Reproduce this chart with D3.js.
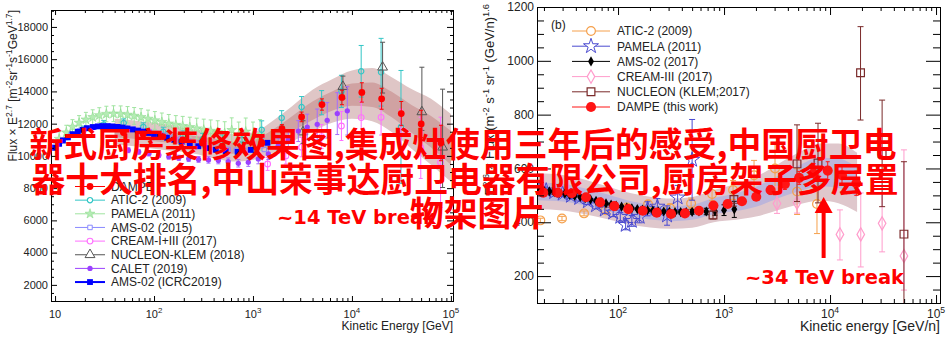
<!DOCTYPE html>
<html><head><meta charset="utf-8">
<script src="https://cdn.jsdelivr.net/npm/d3@7/dist/d3.min.js"></script>
<style>
html,body{margin:0;padding:0;background:#fff;}
svg{display:block;}
</style></head>
<body>
<svg id="chart" width="951" height="352"></svg>
<script>
// ================= LEFT PANEL: proton flux x E^2.7 =================
const pBandE   = [40, 63, 100, 160, 250, 400, 630, 1000, 1600, 2500, 4000, 6300, 10000, 16000, 25000, 40000, 63000, 100000];
const pBandHi2 = [12300, 12200, 12050, 11900, 11650, 11550, 11350, 11450, 12200, 13100, 14100, 14750, 15300, 15450, 14900, 14150, 13550, 12600];
const pBandLo2 = [10700, 10600, 10450, 10300, 10150, 9850, 9650, 9750, 10200, 10900, 11500, 12050, 12300, 12150, 11500, 10450, 9450, 8400];
const pBandHi1 = [11850, 11750, 11600, 11450, 11250, 11080, 10870, 10970, 11650, 12480, 13380, 14000, 14490, 14560, 13990, 13160, 12480, 11550];
const pBandLo1 = [11150, 11060, 10910, 10770, 10570, 10330, 10130, 10230, 10750, 11520, 12220, 12800, 13110, 13040, 12410, 11440, 10520, 9450];

const pDampeE   = [49, 77.6, 123, 195, 309, 490, 776, 1230, 1963, 3100, 4977, 7925, 12590, 19950, 31500, 50100, 79400];
const pDampeV   = [11450, 11350, 11200, 11000, 10800, 10600, 10450, 10800, 11688, 12419, 13187, 13625, 13937, 13544, 12625, 11981, 10800];
const pDampeErr = [120, 120, 120, 120, 130, 140, 160, 200, 250, 300, 350, 450, 600, 650, 750, 850, 1100];

const pAticE   = [19.5, 31, 49.4, 78, 124, 196, 310, 490, 775, 1225, 1950, 3100, 4940, 7830, 12400, 19700, 31300];
const pAticV   = [11600, 11950, 12044, 11800, 11500, 11250, 11050, 10900, 11000, 11625, 12356, 13031, 13300, 14000, 15250, 15190, 11800];
const pAticErr = [250, 250, 250, 250, 280, 300, 350, 400, 450, 550, 450, 650, 750, 1000, 1600, 2100, 3500];

const pPamelaE   = [11, 13, 15, 17.5, 20.5, 24, 28, 33, 39, 46, 54, 63, 74, 87, 102, 120, 141, 166, 195, 230, 270, 318, 374, 440, 518, 610, 718, 845, 1000, 1180];
const pPamelaV   = [11050, 11450, 11800, 12050, 12250, 12400, 12520, 12600, 12620, 12600, 12550, 12480, 12400, 12300, 12200, 12100, 12000, 11920, 11850, 11780, 11700, 11620, 11550, 11480, 11400, 11600, 11300, 11500, 11200, 11300];
const pPamelaErr = [450, 450, 450, 450, 450, 460, 470, 480, 490, 500, 510, 520, 530, 540, 550, 560, 570, 580, 600, 620, 640, 660, 680, 700, 720, 760, 800, 850, 900, 950];

const pAms15E = [10, 12, 14.5, 17.5, 21, 25, 30, 36, 43, 52, 62, 75, 90, 108, 130, 156, 187, 225, 270, 325, 390, 470, 560, 680, 820, 1000, 1300, 1800];
const pAms15V = [10600, 11000, 11300, 11550, 11700, 11780, 11820, 11820, 11790, 11730, 11660, 11580, 11490, 11390, 11280, 11160, 11040, 10920, 10800, 10680, 10570, 10470, 10400, 10350, 10330, 10350, 10400, 10500];

const pCreamE   = [1406, 2150, 3100, 4940, 7830, 12400, 19700, 31300, 49600, 78600];
const pCreamV   = [9500, 10000, 10544, 11200, 11856, 12375, 12394, 11500, 10500, 9600];
const pCreamErr = [400, 500, 600, 750, 900, 1000, 1100, 1400, 1900, 2800];

const pNucleonE     = [3200, 8100, 20400, 50900, 82400];
const pNucleonV     = [11480, 14300, 15500, 12730, 10540];
const pNucleonErrLo = [700, 750, 1600, 1150, 2500];
const pNucleonErrHi = [700, 650, 1550, 2770, 3600];

const pCaletE   = [55, 70, 89, 112, 141, 178, 224, 282, 355, 447, 562, 711, 897, 1132, 1429, 1802, 2275, 2871, 3535, 4457, 5623, 7109, 8977];
const pCaletV   = [10350, 10250, 10150, 10050, 9950, 9880, 9820, 9780, 9750, 9720, 9650, 9540, 9600, 9810, 10125, 10640, 11000, 11540, 11790, 11956, 12206, 12625, 12794];
const pCaletErr = [150, 150, 150, 150, 150, 160, 170, 180, 200, 210, 220, 230, 250, 300, 350, 450, 550, 650, 800, 950, 1100, 1300, 1500];

const pAmsIcrcE = [10, 11, 12, 13.5, 15, 17, 19, 21, 24, 27, 30, 34, 38, 43, 48, 54, 61, 69, 78, 88, 100, 115, 135, 160, 190, 230, 280, 340, 420, 530, 700, 950, 1400];
const pAmsIcrcV = [10500, 10750, 10950, 11150, 11350, 11500, 11620, 11720, 11790, 11830, 11850, 11850, 11830, 11800, 11760, 11700, 11640, 11570, 11500, 11420, 11350, 11250, 11130, 11000, 10880, 10740, 10600, 10480, 10380, 10300, 10250, 10375, 10812];

const pLegend = ["DAMPE", "ATIC-2 (2009)", "PAMELA (2011)", "AMS-02 (2015)", "CREAM-I+III (2017)", "NUCLEON-KLEM (2018)", "CALET (2019)", "AMS-02 (ICRC2019)"];
const pYTicks = [2000, 4000, 6000, 8000, 10000, 12000, 14000, 16000, 18000];

// ================= RIGHT PANEL: helium flux x E^2.6 =================
const hBandE   = [17.5, 30, 50, 80, 130, 200, 320, 500, 800, 1300, 2000, 3200, 5000, 8000, 12000, 18000];
const hBandHi2 = [582, 576, 557, 533, 509, 495, 488, 494, 520, 542, 569, 615, 658, 693, 693, 658];
const hBandLo2 = [448, 444, 429, 411, 392, 381, 376, 380, 400, 409, 421, 445, 466, 481, 471, 438];
const hBandHi1 = [548, 543, 525, 503, 479, 466, 460, 465, 490, 508, 532, 572, 610, 640, 637, 603];
const hBandLo1 = [482, 477, 461, 441, 421, 410, 404, 409, 430, 442, 458, 488, 514, 534, 527, 493];

const hDampeE   = [19.7, 27.0, 36.6, 49.9, 67.7, 92.3, 125, 171, 232, 316, 428, 580, 794, 1081, 1476, 2013, 2748, 3750, 5110, 6970, 9510, 12970, 17700];
const hDampeV   = [510, 510, 508, 493, 474, 460, 449, 443, 436, 431, 433, 443, 462, 468, 478, 495, 520, 542, 565, 582, 592, 575, 545];
const hDampeErr = [5, 5, 5, 5, 5, 5, 5, 5, 6, 6, 7, 8, 9, 10, 12, 14, 17, 20, 24, 28, 33, 38, 45];

const hAticE   = [18.5, 29.6, 47.8, 76.3, 121.6, 192, 310, 489, 771, 1217, 1919, 3027, 4890, 7530];
const hAticV   = [407, 414, 433, 445, 455, 467, 452, 470, 505, 520, 575, 600, 514, 468];
const hAticErr = [8, 8, 9, 10, 12, 14, 16, 20, 25, 35, 55, 90, 85, 110];

const hPamelaE   = [18, 21, 25, 30, 36, 43, 52, 62, 75, 90, 105, 118, 135, 160, 190, 235, 290, 365, 500];
const hPamelaV   = [522, 518, 512, 506, 498, 490, 478, 463, 447, 436, 420, 390, 405, 420, 450, 458, 425, 492, 632];
const hPamelaErr = [9, 9, 9, 10, 10, 11, 12, 13, 14, 15, 16, 18, 20, 22, 26, 30, 36, 45, 150];

const hAmsE   = [18, 20, 22.5, 25, 28, 31.5, 35, 39, 44, 49, 55, 62, 69, 77, 86, 96, 108, 121, 135, 152, 170, 190, 213, 240, 270, 305, 345, 390, 440, 500, 580, 680, 820, 1000, 1250];
const hAmsV   = [520, 518, 515, 512, 509, 506, 502, 498, 494, 490, 485, 480, 475, 470, 466, 462, 458, 455, 452, 449, 447, 445, 443, 441, 440, 439, 438, 438, 438, 439, 440, 440, 441, 445, 448];
const hAmsErr = [3, 3, 3, 3, 3, 3, 3, 3, 3, 3, 3, 3, 3, 3, 3, 3, 3, 3, 4, 4, 4, 4, 5, 5, 5, 6, 6, 7, 8, 9, 10, 12, 15, 20, 30];

const hCreamE     = [3160, 4880, 12400, 19500, 31000, 49800];
const hCreamV     = [470, 473, 355, 355, 396, 275];
const hCreamErrLo = [37, 39, 95, 121, 106, 127];
const hCreamErrHi = [62, 73, 91, 154, 113, 394];

const hNucleonE     = [787, 1240, 4880, 7700, 19400, 31000, 49800];
const hNucleonV     = [427, 485, 617, 620, 956, 656, 356];
const hNucleonErrLo = [15, 25, 140, 148, 176, 198, 356];
const hNucleonErrHi = [15, 25, 145, 148, 171, 198, 269];

const hLegend = ["ATIC-2 (2009)", "PAMELA (2011)", "AMS-02 (2017)", "CREAM-III (2017)", "NUCLEON (KLEM;2017)", "DAMPE (this work)"];
const hYTicks = [200, 400, 600, 800, 1000, 1200];
const hBreakE = 8700;

const overlayLines = ["新式厨房装修效果图,集成灶使用三年后的感受,中国厨卫电", "器十大排名,中山荣事达厨卫电器有限公司,厨房架子多层置", "物架图片"];

// ================= drawing =================
const svg = d3.select("#chart");
const FONT = '"Liberation Sans", Arial, Helvetica, sans-serif';
svg.append("rect").attr("width", 951).attr("height", 352).attr("fill", "#fff");

function supText(sel, parts, fs) {
  let up = false;
  parts.forEach(p => {
    const sup = Array.isArray(p);
    const s = sup ? p[0] : p;
    const t = sel.append("tspan").text(s);
    if (sup) { t.attr("font-size", fs * 0.72); if (!up) { t.attr("dy", -fs * 0.42); up = true; } }
    else if (up) { t.attr("dy", fs * 0.42); up = false; }
  });
  return sel;
}

function logTicks(d0, d1) {
  const major = [], minor = [];
  for (let k = Math.floor(Math.log10(d0)); k <= Math.ceil(Math.log10(d1)); k++) {
    for (let m = 1; m < 10; m++) {
      const v = m * Math.pow(10, k);
      if (v < d0 || v > d1) continue;
      (m === 1 ? major : minor).push(v);
    }
  }
  return { major, minor };
}

function zip(E, V, lo, hi) { return E.map((e, i) => ({ e, v: V[i], lo: lo ? lo[i] : 0, hi: hi ? hi[i] : 0 })); }

function band(plot, x, y, E, lo, hi, color) {
  const d = E.map((e, i) => ({ e, lo: lo[i], hi: hi[i] }));
  plot.append("path").datum(d)
    .attr("d", d3.area().x(p => x(p.e)).y0(p => y(p.lo)).y1(p => y(p.hi)).curve(d3.curveMonotoneX))
    .attr("fill", color).attr("stroke", "none");
}

function series(plot, x, y, data, st) {
  const g = plot.append("g");
  if (st.err) {
    data.forEach(p => {
      const cx = x(p.e), y1 = y(p.v - p.lo), y2 = y(p.v + p.hi);
      const ec = st.ecolor || st.color;
      g.append("line").attr("x1", cx).attr("x2", cx).attr("y1", y1).attr("y2", y2)
        .attr("stroke", ec).attr("stroke-width", st.ew || 1);
      if (st.cap) [y1, y2].forEach(yy => g.append("line")
        .attr("x1", cx - st.cap).attr("x2", cx + st.cap).attr("y1", yy).attr("y2", yy)
        .attr("stroke", ec).attr("stroke-width", st.ew || 1));
    });
  }
  const sym = d3.symbol().type(st.sym).size(st.size);
  g.selectAll("path").data(data).join("path").attr("d", sym)
    .attr("transform", p => `translate(${x(p.e)},${y(p.v)})`)
    .attr("fill", st.fill).attr("stroke", st.stroke || "none").attr("stroke-width", st.sw || 1);
}

function axes(g, x, y, box, o) {
  const lt = logTicks(...x.domain());
  const strip = s => { s.select(".domain").remove(); s.selectAll("line").attr("stroke", "#000"); };
  const mk = (axisFn, scale, vals, len, tr) =>
    g.append("g").attr("transform", tr).call(axisFn(scale).tickValues(vals).tickSize(-len).tickFormat("")).call(strip);
  mk(d3.axisBottom, x, lt.major, o.xMaj, `translate(0,${box.b})`);
  mk(d3.axisBottom, x, lt.minor, o.xMin, `translate(0,${box.b})`);
  mk(d3.axisTop, x, lt.major, o.xMaj, `translate(0,${box.t})`);
  mk(d3.axisTop, x, lt.minor, o.xMin, `translate(0,${box.t})`);
  mk(d3.axisLeft, y, o.yMajor, o.yMaj, `translate(${box.l},0)`);
  mk(d3.axisLeft, y, o.yMinor, o.yMin, `translate(${box.l},0)`);
  mk(d3.axisRight, y, o.yMajor, o.yMaj, `translate(${box.r},0)`);
  mk(d3.axisRight, y, o.yMinor, o.yMin, `translate(${box.r},0)`);
  g.append("rect").attr("x", box.l + 0.5).attr("y", box.t + 0.5).attr("width", box.r - box.l).attr("height", box.b - box.t)
    .attr("fill", "none").attr("stroke", "#000").attr("stroke-width", 1);
  lt.major.forEach(v => {
    const k = Math.round(Math.log10(v));
    const t = g.append("text").attr("x", x(v)).attr("y", o.xLabY).attr("text-anchor", "middle")
      .attr("font-family", FONT).attr("font-size", o.fs).attr("fill", "#222");
    supText(t, k === 1 ? ["10"] : ["10", [String(k)]], o.fs);
  });
  o.yMajor.forEach(v => {
    g.append("text").attr("x", box.l - o.yLabGap).attr("y", y(v)).attr("dy", "0.35em").attr("text-anchor", "end")
      .attr("font-family", FONT).attr("font-size", o.fs).attr("fill", "#222").text(v);
  });
}

function legendRow(g, lx, ly, len, st, label, fs, tx) {
  g.append("line").attr("x1", lx).attr("x2", lx + len).attr("y1", ly).attr("y2", ly)
    .attr("stroke", st.color).attr("stroke-width", st.lw || 1);
  g.append("path").attr("d", d3.symbol().type(st.sym).size(st.size))
    .attr("transform", `translate(${lx + len / 2},${ly})`)
    .attr("fill", st.fill === "none" ? "#fff" : st.fill).attr("stroke", st.stroke || "none").attr("stroke-width", st.sw || 1);
  g.append("text").attr("x", tx).attr("y", ly).attr("dy", "0.36em").attr("font-family", FONT)
    .attr("font-size", fs).attr("fill", "#222").text(label);
}

// ---------- left panel ----------
const boxL = { l: 51, r: 453, t: 10, b: 301 };
const xL = d3.scaleLog().domain([9.1, 1.05e5]).range([boxL.l, boxL.r]);
const yL = d3.scaleLinear().domain([1000, 19050]).range([boxL.b, boxL.t]);
const gL = svg.append("g");
gL.append("clipPath").attr("id", "clipL").append("rect")
  .attr("x", boxL.l).attr("y", boxL.t).attr("width", boxL.r - boxL.l).attr("height", boxL.b - boxL.t);
const plotL = gL.append("g").attr("clip-path", "url(#clipL)");

band(plotL, xL, yL, pBandE, pBandLo2, pBandHi2, "#dfc6c6");
band(plotL, xL, yL, pBandE, pBandLo1, pBandHi1, "#d0a2a2");

const stL = {
  dampe:  { color: "#ff0000", sym: d3.symbolCircle, size: 36, fill: "#ff0000", err: true, cap: 2 },
  atic:   { color: "#33c6c6", sym: d3.symbolCircle, size: 22, fill: "none", stroke: "#33c6c6", sw: 1.2, err: true, cap: 2.5 },
  pamela: { color: "#a0e4a0", sym: d3.symbolStar, size: 30, fill: "#b4ecb4", stroke: "#8fdc8f", sw: 0.6, err: true, cap: 2 },
  ams15:  { color: "#8a8aff", sym: d3.symbolSquare, size: 20, fill: "none", stroke: "#8a8aff", sw: 1 },
  cream:  { color: "#ff70ff", sym: d3.symbolCircle, size: 26, fill: "none", stroke: "#ff70ff", sw: 1.1, err: true, cap: 2 },
  nucleon:{ color: "#555555", sym: d3.symbolTriangle, size: 42, fill: "none", stroke: "#555555", sw: 1, err: true, cap: 2.5 },
  calet:  { color: "#9b40ff", sym: d3.symbolCircle, size: 22, fill: "#9b40ff", err: true, ecolor: "#a66cff", cap: 2 },
  amsIcrc:{ color: "#0000ff", sym: d3.symbolSquare, size: 34, fill: "#0000ff", lw: 2 }
};

series(plotL, xL, yL, zip(pPamelaE, pPamelaV, pPamelaErr, pPamelaErr), stL.pamela);
series(plotL, xL, yL, zip(pAticE, pAticV, pAticErr, pAticErr), stL.atic);
series(plotL, xL, yL, zip(pAms15E, pAms15V), stL.ams15);
series(plotL, xL, yL, zip(pCreamE, pCreamV, pCreamErr, pCreamErr), stL.cream);
series(plotL, xL, yL, zip(pNucleonE, pNucleonV, pNucleonErrLo, pNucleonErrHi), stL.nucleon);
series(plotL, xL, yL, zip(pCaletE, pCaletV, pCaletErr, pCaletErr), stL.calet);
series(plotL, xL, yL, zip(pAmsIcrcE, pAmsIcrcV), stL.amsIcrc);
series(plotL, xL, yL, zip(pDampeE, pDampeV, pDampeErr, pDampeErr), stL.dampe);

const yMinL = d3.range(1000, 19001, 500).filter(v => v % 2000 !== 0);
axes(gL, xL, yL, boxL, { xMaj: 5, xMin: 3, yMaj: 6, yMin: 3, yMajor: pYTicks, yMinor: yMinL, xLabY: 318, fs: 11, yLabGap: 3 });

const legL = gL.append("g");
[stL.dampe, stL.atic, stL.pamela, stL.ams15, stL.cream, stL.nucleon, stL.calet, stL.amsIcrc].forEach((st, i) => {
  legendRow(legL, 75, 186.5 + i * 13.65, 30, st, pLegend[i], 12, 111);
});

gL.append("text").attr("x", boxL.r).attr("y", 330).attr("text-anchor", "end")
  .attr("font-family", FONT).attr("font-size", 12).attr("fill", "#222").text("Kinetic Energy [GeV]");
supText(gL.append("text").attr("transform", `translate(17,${boxL.t}) rotate(-90)`).attr("text-anchor", "end")
  .attr("font-family", FONT).attr("font-size", 12).attr("fill", "#222"),
  ["Flux \u00d7 E", ["2.7"], " [m", ["-2"], "sr", ["-1"], "s", ["-1"], "GeV", ["1.7"], "]"], 12);

// ---------- right panel ----------
const boxR = { l: 537, r: 940, t: 7, b: 303 };
const xR = d3.scaleLog().domain([17.2, 1.09e5]).range([boxR.l, boxR.r]);
const yR = d3.scaleLinear().domain([100, 1200]).range([boxR.b, boxR.t]);
const gR = svg.append("g");
gR.append("clipPath").attr("id", "clipR").append("rect")
  .attr("x", boxR.l).attr("y", boxR.t).attr("width", boxR.r - boxR.l).attr("height", boxR.b - boxR.t);
const plotR = gR.append("g").attr("clip-path", "url(#clipR)");

band(plotR, xR, yR, hBandE, hBandLo2, hBandHi2, "#dfc7cc");
band(plotR, xR, yR, hBandE, hBandLo1, hBandHi1, "#bcb5da");

const stR = {
  atic:   { color: "#f5a04c", sym: d3.symbolCircle, size: 60, fill: "none", stroke: "#f5a04c", sw: 1.2, err: true, cap: 3 },
  pamela: { color: "#4a4ad0", sym: d3.symbolStar, size: 70, fill: "none", stroke: "#4a4ad0", sw: 1, err: true, cap: 3 },
  ams:    { color: "#000000", sym: d3.symbolDiamond, size: 30, fill: "#000", err: true, cap: 2.5 },
  cream:  { color: "#ff9ccc", sym: d3.symbolDiamond, size: 50, fill: "none", stroke: "#ff9ccc", sw: 1.2, err: true, cap: 3 },
  nucleon:{ color: "#7a2a2a", sym: d3.symbolSquare, size: 60, fill: "none", stroke: "#7a2a2a", sw: 1.2, err: true, cap: 3 },
  dampe:  { color: "#ff1414", sym: d3.symbolCircle, size: 80, fill: "#ff1414", err: true, cap: 2 }
};

series(plotR, xR, yR, zip(hAticE, hAticV, hAticErr, hAticErr), stR.atic);
series(plotR, xR, yR, zip(hPamelaE, hPamelaV, hPamelaErr, hPamelaErr), stR.pamela);
series(plotR, xR, yR, zip(hAmsE, hAmsV, hAmsErr, hAmsErr), stR.ams);
series(plotR, xR, yR, zip(hCreamE, hCreamV, hCreamErrLo, hCreamErrHi), stR.cream);
series(plotR, xR, yR, zip(hNucleonE, hNucleonV, hNucleonErrLo, hNucleonErrHi), stR.nucleon);
series(plotR, xR, yR, zip(hDampeE, hDampeV, hDampeErr, hDampeErr), stR.dampe);

const yMinR = d3.range(100, 1201, 50).filter(v => v % 200 !== 0);
axes(gR, xR, yR, boxR, { xMaj: 8, xMin: 4, yMaj: 14, yMin: 7, yMajor: hYTicks, yMinor: yMinR, xLabY: 318, fs: 12, yLabGap: 3 });

const legR = gR.append("g");
[stR.atic, stR.pamela, stR.ams, stR.cream, stR.nucleon, stR.dampe].forEach((st, i) => {
  legendRow(legR, 572, 31 + i * 15.2, 38, st, hLegend[i], 12, 617);
});
gR.append("text").attr("x", 551).attr("y", 29).attr("font-family", FONT).attr("font-size", 12).attr("fill", "#222").text("(b)");

gR.append("text").attr("x", boxR.r).attr("y", 331).attr("text-anchor", "end")
  .attr("font-family", FONT).attr("font-size", 14).attr("fill", "#222").text("Kinetic energy [GeV/n]");
supText(gR.append("text").attr("transform", `translate(494,4) rotate(-90)`).attr("text-anchor", "end")
  .attr("font-family", FONT).attr("font-size", 13).attr("fill", "#222"),
  ["E", ["2.6"], " \u00d7 Flux (m", ["-2"], " s", ["-1"], " sr", ["-1"], " (GeV/n)", ["1.6"]], 13);

// ---------- annotations ----------
const ann = svg.append("g");
ann.append("text").attr("x", 277).attr("y", 224).attr("font-family", '"DejaVu Sans", sans-serif')
  .attr("font-size", 19.5).attr("font-weight", "bold").attr("fill", "#ff0000").text("~14 TeV break");
ann.append("text").attr("x", 745).attr("y", 284).attr("font-family", '"DejaVu Sans", sans-serif')
  .attr("font-size", 19.5).attr("font-weight", "bold").attr("fill", "#ff0000").text("~34 TeV break");
const ax = xR(hBreakE);
ann.append("line").attr("x1", ax).attr("x2", ax).attr("y1", 258).attr("y2", 208)
  .attr("stroke", "#ff0000").attr("stroke-width", 4);
ann.append("path").attr("d", `M${ax - 9},${213}L${ax + 9},${213}L${ax},${197}Z`).attr("fill", "#ff0000");

const over = svg.append("g").attr("font-family", '"Noto Sans CJK SC", sans-serif').attr("font-weight", "bold")
  .attr("font-size", 33.8).attr("fill", "#ff0000");
over.append("text").attr("x", 463).attr("y", 157).attr("text-anchor", "middle").text(overlayLines[0]);
over.append("text").attr("x", 465).attr("y", 192).attr("text-anchor", "middle").text(overlayLines[1]);
over.append("text").attr("x", 410).attr("y", 226).text(overlayLines[2]);
</script>
</body></html>
